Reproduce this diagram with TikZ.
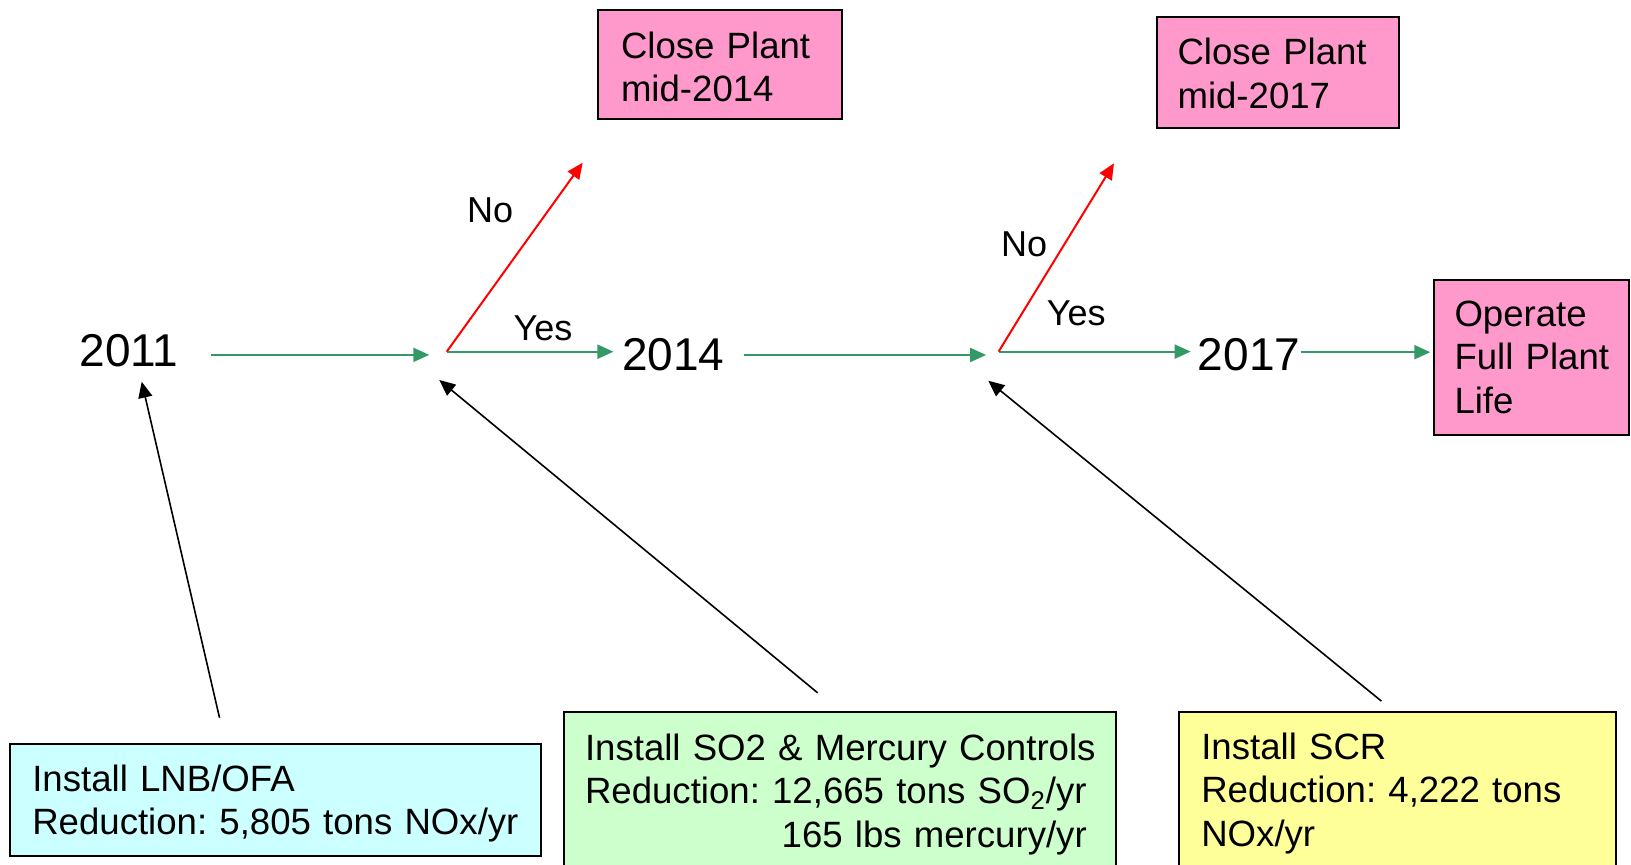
\documentclass[tikz,border=0pt]{standalone}
\usepackage{fontspec}
\setmainfont{Liberation Sans}
\frenchspacing
\usetikzlibrary{arrows.meta}
\definecolor{pinkbox}{HTML}{FF99CC}
\definecolor{cyanbox}{HTML}{CCFFFF}
\definecolor{greenbox}{HTML}{CCFFCC}
\definecolor{yellowbox}{HTML}{FFFF99}
\definecolor{flowgreen}{HTML}{339966}
\tikzset{
  infobox/.style={draw=black, line width=1pt, anchor=north west, inner ysep=0pt,
    align=left, font=\fontsize{18.3}{21.8}\selectfont},
  yearlbl/.style={anchor=base, inner sep=0pt, font=\fontsize{23}{27}\selectfont},
  choicelbl/.style={anchor=base west, inner sep=0pt, font=\fontsize{18}{21}\selectfont},
  garrow/.style={draw=flowgreen, line width=1pt, -{Triangle[length=8pt,width=7pt]}},
  rarrow/.style={draw=red, line width=1pt, -{Triangle[length=8pt,width=7pt]}},
  barrow/.style={draw=black, line width=0.8pt, -{Triangle[length=8pt,width=7pt]}},
}
\begin{document}
\begin{tikzpicture}[x=0.5pt,y=-0.5pt]
\useasboundingbox[fill=white] (0,0) rectangle (1631,864);

% years
\node[yearlbl] (y11) at (129,366.7) {2011};
\node[yearlbl] (y14) at (673.4,370) {2014};
\node[yearlbl] (y17) at (1249,370) {2017};

% junctions and free ends
\coordinate (j1) at (446.7,351.7);
\coordinate (j2) at (998.6,351.6);
\coordinate (n1) at (582.7,162.7);
\coordinate (n2) at (1114,163.3);
\coordinate (s1) at (219.5,717.7);
\coordinate (t1) at (141.7,381.7);
\coordinate (s2) at (817.6,692.8);
\coordinate (t2) at (439.3,380);
\coordinate (s3) at (1381.4,701.1);
\coordinate (t3) at (988.2,380.7);

% boxes
\node[infobox, fill=pinkbox, inner xsep=11.5pt, text width=98.75pt,
      text height=24pt, text depth=30.5pt] (c14) at (597,9.3)
  {Close Plant\\mid-2014};
\node[infobox, fill=pinkbox, inner xsep=10.5pt, text width=100.25pt,
      text height=23.65pt, text depth=31.6pt] (c17) at (1155.5,16.3)
  {Close Plant\\mid-2017};
\node[infobox, fill=pinkbox, inner xsep=10.4pt, text width=77pt,
      text height=23pt, text depth=54.35pt] (op) at (1432.7,279.3)
  {Operate\\\mbox{Full Plant}\\Life};
\node[infobox, fill=cyanbox, inner xsep=11pt, text width=243.35pt,
      text height=23.65pt, text depth=32.5pt] (lnb) at (9.3,742.7)
  {Install LNB/OFA\\\mbox{Reduction: 5,805 tons NOx/yr}};
\node[infobox, fill=greenbox, inner xsep=10.75pt, text width=254.8pt,
      text height=24.15pt, text depth=60.85pt] (so2) at (562.5,711)
  {\mbox{Install SO2 \& Mercury Controls}\\\mbox{Reduction: 12,665 tons SO\textsubscript{2}/yr}\\\hspace*{98.35pt}\mbox{165 lbs mercury/yr}};
\node[infobox, fill=yellowbox, inner xsep=11pt, text width=196.55pt,
      text height=23.65pt, text depth=61.35pt] (scr) at (1178.3,711)
  {Install SCR\\\mbox{Reduction: 4,222 tons}\\NOx/yr};

% choice labels
\node[choicelbl] (no1) at (466.7,222.7) {No};
\node[choicelbl] (yes1) at (513.3,340) {Yes};
\node[choicelbl] (no2) at (1000.7,256) {No};
\node[choicelbl] (yes2) at (1046.4,325.6) {Yes};

% green flow
\draw[garrow, shorten <=16pt, shorten >=8.7pt] ([yshift=-2pt]y11.east) -- ([yshift=-2pt]y11.east -| j1);
\draw[garrow, shorten >=4.2pt] (j1) -- (j1 -| y14.west);
\draw[garrow, shorten <=9.3pt, shorten >=6.25pt] ([yshift=-0.4pt]y14.east) -- ([yshift=-0.4pt]y14.east -| j2);
\draw[garrow, shorten >=3.4pt] (j2) -- (j2 -| y17.west);
\draw[garrow, shorten >=1.2pt] ([yshift=1pt]y17.east) -- ([yshift=1pt]y17.east -| op.west);

% red flow
\draw[rarrow] (j1) -- (n1);
\draw[rarrow] (j2) -- (n2);

% black pointers
\draw[barrow] (s1) -- (t1);
\draw[barrow] (s2) -- (t2);
\draw[barrow] (s3) -- (t3);
\end{tikzpicture}
\end{document}
